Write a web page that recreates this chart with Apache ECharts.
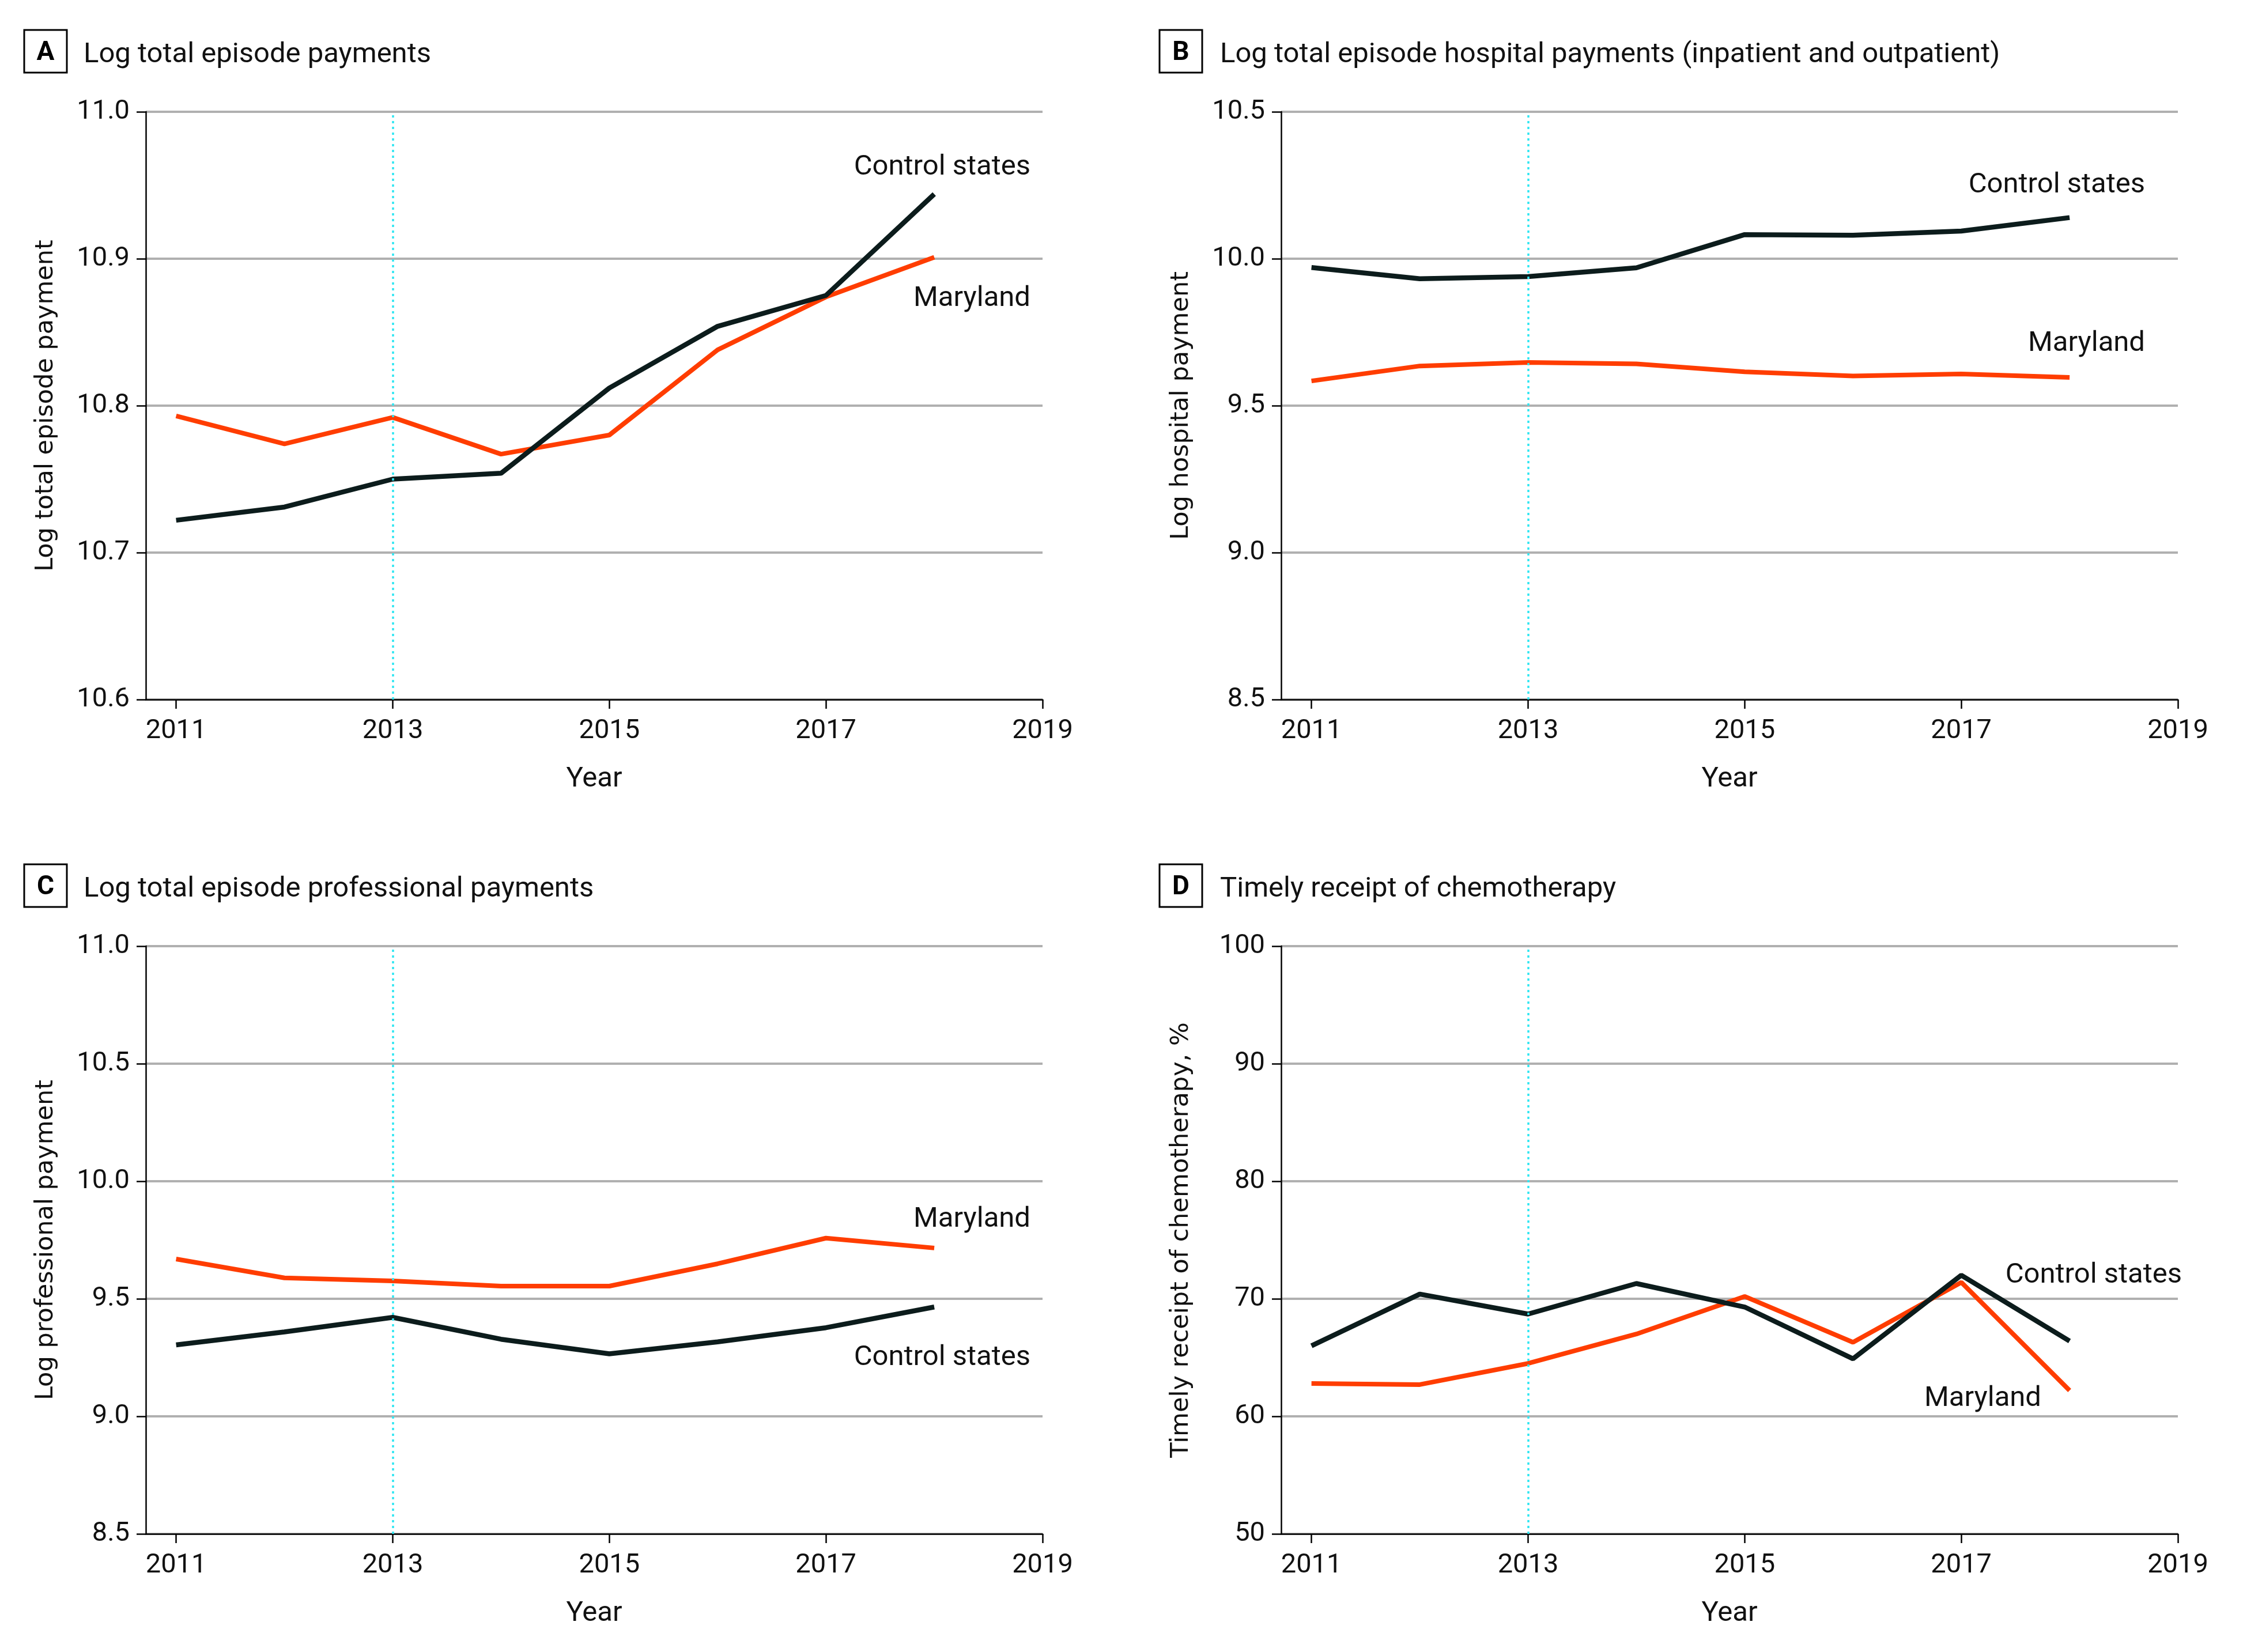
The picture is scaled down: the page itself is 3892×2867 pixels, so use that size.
<!DOCTYPE html>
<html>
<head>
<meta charset="utf-8">
<script src="https://cdn.jsdelivr.net/npm/echarts@6/dist/echarts.min.js"></script>
<style>
  html, body { margin: 0; padding: 0; background: #fff; }
  #main { width: 3892px; height: 2867px; }
</style>
</head>
<body>
<div id="main"></div>
<script>
// data
const years = [2011, 2012, 2013, 2014, 2015, 2016, 2017, 2018];
const yearTicks = [2011, 2013, 2015, 2017, 2019];
const policyYear = 2013;

// A - log total episode payments
const totalControl  = [10.722, 10.731, 10.750, 10.754, 10.812, 10.854, 10.875, 10.944];
const totalMaryland = [10.793, 10.774, 10.792, 10.767, 10.780, 10.838, 10.874, 10.901];
// B - log hospital payments
const hospControl  = [9.970, 9.932, 9.939, 9.969, 10.082, 10.080, 10.094, 10.140];
const hospMaryland = [9.584, 9.635, 9.647, 9.642, 9.615, 9.601, 9.608, 9.596];
// C - log professional payments
const profControl  = [9.304, 9.359, 9.421, 9.328, 9.266, 9.317, 9.377, 9.465];
const profMaryland = [9.669, 9.589, 9.576, 9.554, 9.554, 9.649, 9.758, 9.716];
// D - timely chemo, %
const chemoControl  = [66.0, 70.4, 68.7, 71.3, 69.3, 64.9, 72.0, 66.4];
const chemoMaryland = [62.8, 62.7, 64.5, 67.0, 70.2, 66.3, 71.4, 62.2];

const panels = [
  { letter: 'A', title: 'Log total episode payments', yName: 'Log total episode payment',
    min: 10.6, max: 11.0, step: 0.1, digits: 1, control: totalControl, maryland: totalMaryland },
  { letter: 'B', title: 'Log total episode hospital payments (inpatient and outpatient)', yName: 'Log hospital payment',
    min: 8.5, max: 10.5, step: 0.5, digits: 1, control: hospControl, maryland: hospMaryland },
  { letter: 'C', title: 'Log total episode professional payments', yName: 'Log professional payment',
    min: 8.5, max: 11.0, step: 0.5, digits: 1, control: profControl, maryland: profMaryland },
  { letter: 'D', title: 'Timely receipt of chemotherapy', yName: 'Timely receipt of chemotherapy, %',
    min: 50, max: 100, step: 10, digits: 0, control: chemoControl, maryland: chemoMaryland }
];

// where the series names sit (right edge x, middle y) in each panel
const nameSpots = [
  { control: [1788, 291],  maryland: [1788, 519] },
  { control: [3722, 322],  maryland: [3722, 597] },
  { control: [1788, 2357], maryland: [1788, 2117] },
  { control: [3786, 2214], maryland: [3542, 2428] }
];

const FONT = 'Roboto';
const INK = '#111';
const ORANGE = '#ff3d00';
const DARK = '#0c1c1c';

const colX = [253, 2223], rowY = [194, 1642];
const boxX = [42, 2012], boxY = [52, 1500];
const titleX = [145, 2117];
const plotW = 1556, plotH = 1020;

const grid = [], xAxis = [], yAxis = [], series = [], graphic = [];

panels.forEach((p, i) => {
  const col = i % 2, row = Math.floor(i / 2);
  grid.push({ left: colX[col], top: rowY[row], width: plotW, height: plotH, outerBoundsMode: 'none' });

  xAxis.push({
    type: 'value', gridIndex: i, min: 2010.72, max: 2019,
    name: 'Year', nameLocation: 'middle', nameGap: 114,
    nameTextStyle: { fontFamily: FONT, fontSize: 49, color: INK },
    axisLine: { lineStyle: { color: '#000', width: 2.5 } },
    axisTick: { customValues: yearTicks, length: 16, lineStyle: { color: '#000', width: 2.5 } },
    axisLabel: { customValues: yearTicks, margin: 32, fontFamily: FONT, fontSize: 47, color: INK,
                 formatter: v => String(v) },
    splitLine: { show: false }
  });

  yAxis.push({
    type: 'value', gridIndex: i, min: p.min, max: p.max, interval: p.step,
    name: p.yName, nameLocation: 'middle', nameGap: 152,
    nameTextStyle: { fontFamily: 'DejaVu Sans', fontSize: 43, color: INK },
    axisLine: { show: true, lineStyle: { color: '#000', width: 2.5 } },
    axisTick: { show: true, length: 16, lineStyle: { color: '#000', width: 2.5 } },
    axisLabel: { margin: 28, fontFamily: FONT, fontSize: 47, color: INK,
                 formatter: v => v.toFixed(p.digits) },
    splitLine: { show: true, lineStyle: { color: '#b0b0b0', width: 4 } }
  });

  // 2013 reference line
  series.push({
    type: 'line', xAxisIndex: i, yAxisIndex: i, data: [], z: 1, silent: true,
    markLine: {
      silent: true, symbol: ['none', 'none'], label: { show: false },
      lineStyle: { color: '#2ee6f2', type: [4, 6], width: 3.5 },
      data: [{ xAxis: policyYear }]
    }
  });

  series.push({
    name: 'Maryland', type: 'line', xAxisIndex: i, yAxisIndex: i, z: 3,
    data: years.map((y, k) => [y, p.maryland[k]]),
    showSymbol: false, lineStyle: { color: ORANGE, width: 8 }
  });
  series.push({
    name: 'Control states', type: 'line', xAxisIndex: i, yAxisIndex: i, z: 4,
    data: years.map((y, k) => [y, p.control[k]]),
    showSymbol: false, lineStyle: { color: DARK, width: 8.5 }
  });

  // panel letter box + title
  graphic.push({
    type: 'rect', shape: { x: boxX[col], y: boxY[row], width: 74, height: 74 },
    style: { fill: 'none', stroke: '#000', lineWidth: 3 }
  });
  graphic.push({
    type: 'text', x: boxX[col] + 37, y: boxY[row] + 40,
    style: { text: p.letter, font: 'bold 46px ' + FONT, fill: '#000', align: 'center', verticalAlign: 'middle' }
  });
  graphic.push({
    type: 'text', x: titleX[col], y: boxY[row] + 44,
    style: { text: p.title, font: '49px ' + FONT, fill: INK, align: 'left', verticalAlign: 'middle' }
  });

  // series names
  const s = nameSpots[i];
  graphic.push({
    type: 'text', x: s.control[0], y: s.control[1],
    style: { text: 'Control states', font: '49px ' + FONT, fill: INK, align: 'right', verticalAlign: 'middle' }
  });
  graphic.push({
    type: 'text', x: s.maryland[0], y: s.maryland[1],
    style: { text: 'Maryland', font: '49px ' + FONT, fill: INK, align: 'right', verticalAlign: 'middle' }
  });
});

const chart = echarts.init(document.getElementById('main'));
chart.setOption({
  backgroundColor: '#fff',
  animation: false,
  grid, xAxis, yAxis, series, graphic
});
</script>
</body>
</html>
